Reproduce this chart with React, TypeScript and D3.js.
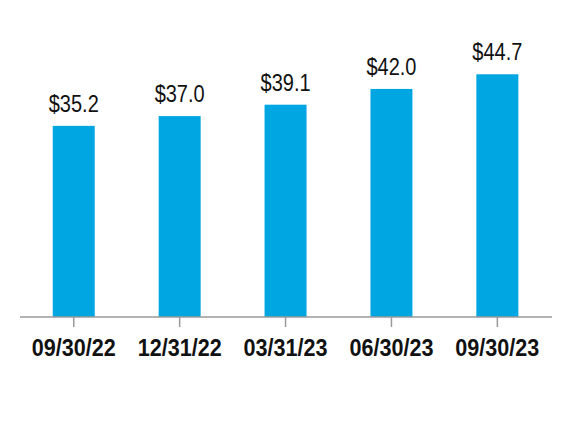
import React from "react";
import * as d3 from "d3";

const categories: string[] = ["09/30/22", "12/31/22", "03/31/23", "06/30/23", "09/30/23"];
const values: number[] = [35.2, 37.0, 39.1, 42.0, 44.7];
const valueLabels: string[] = ["$35.2", "$37.0", "$39.1", "$42.0", "$44.7"];

const W = 572;
const H = 430;
const axisY = 317;

export default function App() {
  const x = d3.scaleBand<string>().domain(categories).range([20.8, 550.3]).paddingInner(0.6).paddingOuter(0.3);
  const y = d3.scaleLinear().domain([0, 50]).range([axisY, axisY - 271.5]);
  const bw = 42;
  const center = (c: string) => (x(c) as number) + x.bandwidth() / 2;
  return (
    <svg width={W} height={H} style={{ position: "absolute", left: 0, top: 0, background: "#fff" }}>
      {categories.map((c, i) => (
        <rect key={c} x={center(c) - bw / 2} y={y(values[i])} width={bw} height={axisY - y(values[i])} fill="#00a6e1" />
      ))}
      <line x1={20} x2={552} y1={axisY} y2={axisY} stroke="#9a9a9a" strokeWidth={1.5} />
      {categories.map((c) => (
        <line key={"t" + c} x1={center(c)} x2={center(c)} y1={axisY} y2={axisY + 10} stroke="#9a9a9a" strokeWidth={1.5} />
      ))}
      {categories.map((c, i) => (
        <text
          key={"v" + c}
          x={center(c)}
          y={y(values[i]) - 14}
          textAnchor="middle"
          fontFamily="'Liberation Sans Narrow', 'Arial Narrow', 'Liberation Sans', sans-serif"
          fontSize={23}
          textLength={50}
          lengthAdjust="spacingAndGlyphs"
          fill="#111"
        >
          {valueLabels[i]}
        </text>
      ))}
      {categories.map((c) => (
        <text
          key={"l" + c}
          x={center(c)}
          y={355.7}
          textAnchor="middle"
          fontFamily="'Liberation Sans Narrow', 'Arial Narrow', 'Liberation Sans', sans-serif"
          fontWeight="bold"
          fontSize={23}
          textLength={84}
          lengthAdjust="spacingAndGlyphs"
          fill="#111"
        >
          {c}
        </text>
      ))}
    </svg>
  );
}
